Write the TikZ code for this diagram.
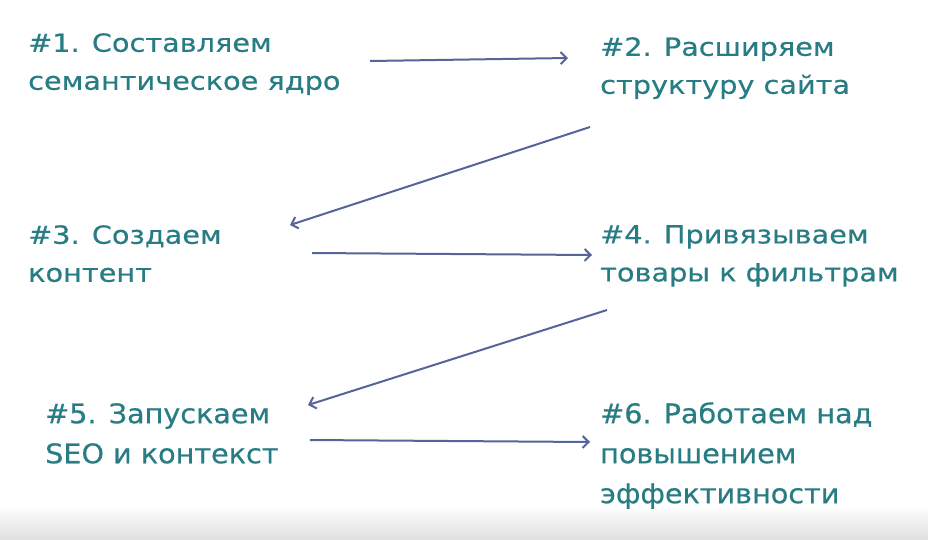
\documentclass[tikz,border=0pt]{standalone}
\usepackage{fontspec}
\setmainfont{DejaVu Sans}[FakeStretch=1.15, FakeBold=0.5]
\newfontfamily\narrowfont{DejaVu Sans Condensed}[FakeStretch=1.18, FakeBold=0.5]
\usetikzlibrary{arrows.meta, calc, positioning}

\definecolor{stepteal}{RGB}{40,125,132}
\definecolor{linkblue}{RGB}{86,100,154}

\begin{document}
\begin{tikzpicture}[x=1pt, y=-1pt, >={Straight Barb[length=6pt, width=12pt]}]
        % Stiluri
        \tikzstyle{stage} = [anchor=north west, align=left, inner sep=0pt, text=stepteal, font=\fontsize{25}{38}\selectfont]
        \tikzstyle{narrowstage} = [stage, font=\fontsize{27}{40}\selectfont\narrowfont]
        \tikzstyle{link} = [->, draw=linkblue, line width=2pt]

        % fundal
        \fill[white] (0,0) rectangle (928,539);
        \shade[top color=white, bottom color=black!12] (0,505) rectangle (928,539);
        \useasboundingbox (0,0) rectangle (928,539);

        % --- Etape ---
        \node [stage] (s1) at (28,33) {\#1. Составляем\\семантическое ядро};
        \node [stage] (s2) at (600,37) {\#2. Расширяем\\структуру сайта};
        \node [stage] (s3) at (28,225) {\#3. Создаем\\контент};
        \node [stage] (s4) at (600,225) {\#4. Привязываем\\товары к фильтрам};
        \node [narrowstage] (s5) at (45,403) {\#5. Запускаем\\SEO и контекст};
        \node [narrowstage] (s6) at (600,402) {\#6. Работаем над\\повышением\\эффективности};

        % --- Sageti ---
        \draw [link] ($(s1.north west)+(342,28)$) -- ($(s2.north west)+(-32,21)$);
        \draw [link] ($(s2.north west)+(-10,90)$) -- ($(s3.north west)+(262,0)$);
        \draw [link] ($(s3.north west)+(284,28)$) -- ($(s4.north west)+(-8,30)$);
        \draw [link] ($(s4.north west)+(7,85)$) -- ($(s5.north west)+(263,2)$);
        \draw [link] ($(s5.north west)+(265,37)$) -- ($(s6.north west)+(-10,40)$);

    \end{tikzpicture}
\end{document}
